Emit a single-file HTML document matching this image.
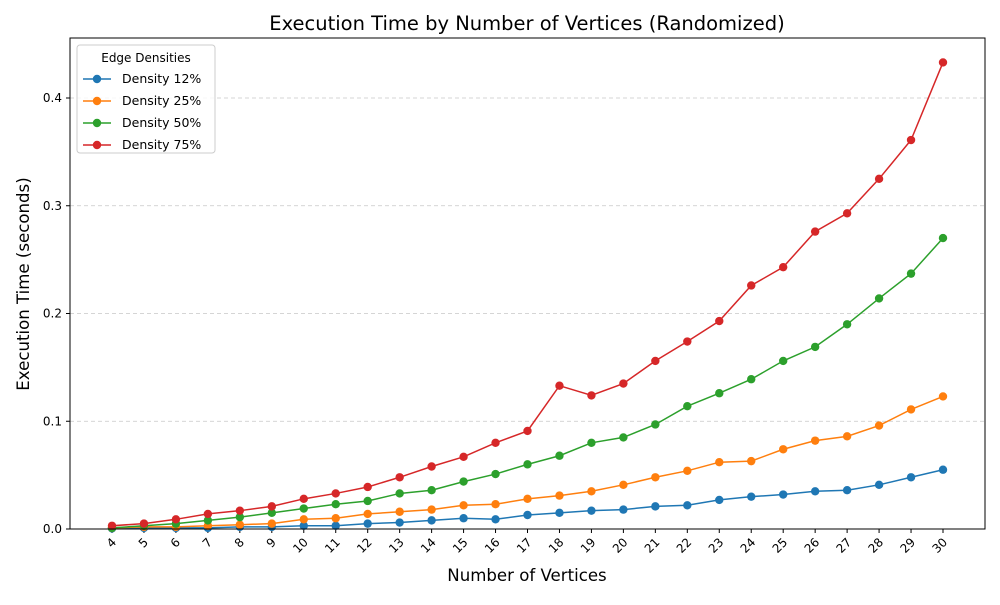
<!DOCTYPE html>
<html><head><meta charset="utf-8"><style>
body{margin:0;background:#fff;font-family:"Liberation Sans","DejaVu Sans",sans-serif}
svg text{font-family:"DejaVu Sans","Liberation Sans",sans-serif}
</style></head><body>
<svg id="chart" width="1000" height="600" xmlns="http://www.w3.org/2000/svg"></svg>
<script>
const categories=[4,5,6,7,8,9,10,11,12,13,14,15,16,17,18,19,20,21,22,23,24,25,26,27,28,29,30];
const seriesNames=["Density 12%","Density 25%","Density 50%","Density 75%"];
const colors=["#1f77b4","#ff7f0e","#2ca02c","#d62728"];
const d12=[0.0005,0.001,0.001,0.001,0.002,0.002,0.003,0.003,0.005,0.006,0.008,0.010,0.009,0.013,0.015,0.017,0.018,0.021,0.022,0.027,0.030,0.032,0.035,0.036,0.041,0.048,0.055];
const d25=[0.001,0.002,0.002,0.003,0.004,0.005,0.009,0.010,0.014,0.016,0.018,0.022,0.023,0.028,0.031,0.035,0.041,0.048,0.054,0.062,0.063,0.074,0.082,0.086,0.096,0.111,0.123];
const d50=[0.001,0.003,0.005,0.008,0.011,0.015,0.019,0.023,0.026,0.033,0.036,0.044,0.051,0.060,0.068,0.080,0.085,0.097,0.114,0.126,0.139,0.156,0.169,0.190,0.214,0.237,0.270];
const d75=[0.003,0.005,0.009,0.014,0.017,0.021,0.028,0.033,0.039,0.048,0.058,0.067,0.080,0.091,0.133,0.124,0.135,0.156,0.174,0.193,0.226,0.243,0.276,0.293,0.325,0.361,0.433];
const yTicks=[0.0,0.1,0.2,0.3,0.4];
const yTickLabels=["0.0","0.1","0.2","0.3","0.4"];
const series=[d12,d25,d50,d75];
const NS="http://www.w3.org/2000/svg";
const svg=document.getElementById('chart');
const L=70,R=985,T=38,B=529;
function x(i){return 112+(943-112)*i/(categories.length-1);}
function y(v){return B-v*1077.5;}
function mk(tag,attrs,parent){const e=document.createElementNS(NS,tag);for(const k in attrs)e.setAttribute(k,attrs[k]);(parent||svg).appendChild(e);return e;}
yTicks.forEach((t,i)=>{
 if(i>0){const g=mk('line',{x1:L,x2:R,y1:y(t),y2:y(t),stroke:'#c8c8c8','stroke-dasharray':'4,3','stroke-width':0.8});
 
 }
 mk('line',{x1:L-4,x2:L,y1:y(t),y2:y(t),stroke:'#000'});
 const tx=mk('text',{x:L-8,y:y(t)+4,'text-anchor':'end','font-size':12});tx.textContent=yTickLabels[i];
 
 
});
categories.forEach((c,i)=>{
 mk('line',{x1:x(i),x2:x(i),y1:B,y2:B+4,stroke:'#000'});
 const tx=mk('text',{x:0,y:0,'text-anchor':'end','font-size':12,transform:`translate(${x(i)+5},${B+14}) rotate(-45)`});tx.textContent=c;
 
 
});
series.forEach((s,k)=>{
 const g=mk('g',{});
 
 
 mk('polyline',{points:s.map((v,i)=>x(i)+','+y(v)).join(' '),fill:'none',stroke:colors[k],'stroke-width':1.5},g);
 s.forEach((v,i)=>{const p=mk('circle',{cx:x(i),cy:y(v),r:4.2,fill:colors[k]},g);
 
 });
});
const fr=mk('rect',{x:L,y:T,width:R-L,height:B-T,fill:'none',stroke:'#000','stroke-width':1});


const ti=mk('text',{x:527,y:30,'text-anchor':'middle','font-size':19.5});ti.textContent='Execution Time by Number of Vertices (Randomized)';


const xt=mk('text',{x:527,y:581,'text-anchor':'middle','font-size':16.6});xt.textContent='Number of Vertices';


const yt=mk('text',{x:0,y:0,'text-anchor':'middle','font-size':16.6,transform:'translate(29,284) rotate(-90)'});yt.textContent='Execution Time (seconds)';


const lg=mk('g',{});


mk('rect',{x:77,y:45,width:138,height:108,rx:3,fill:'#fff','fill-opacity':0.8,stroke:'#ccc'},lg);
const lt=mk('text',{x:146,y:62,'text-anchor':'middle','font-size':12},lg);lt.textContent='Edge Densities';
seriesNames.forEach((n,k)=>{
 const yy=79+k*22;
 const e=mk('g',{},lg);
 
 
 mk('line',{x1:83,x2:111,y1:yy,y2:yy,stroke:colors[k],'stroke-width':1.5},e);
 mk('circle',{cx:97,cy:yy,r:4.2,fill:colors[k]},e);
 const t=mk('text',{x:122,y:yy+4,'font-size':12.5},e);t.textContent=n;
});
</script>
</body></html>
